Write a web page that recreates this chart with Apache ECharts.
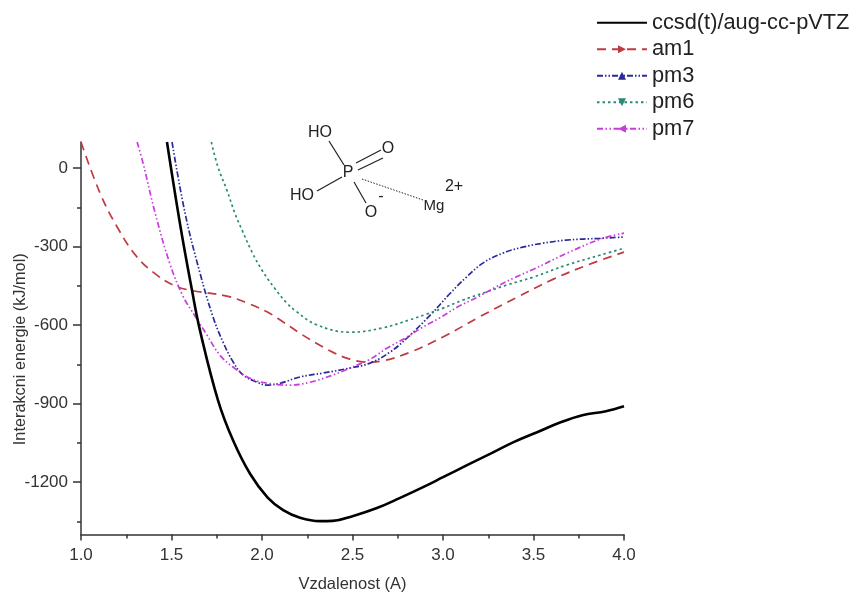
<!DOCTYPE html>
<html><head><meta charset="utf-8">
<style>html,body{margin:0;padding:0;background:#fff}#c{width:855px;height:594px}</style>
<script src="https://cdn.jsdelivr.net/npm/echarts@6/dist/echarts.min.js"></script>
</head><body><div id="c"></div>
<script>
const ccsd = [[1.475,100],[1.55,-225],[1.613,-466],[1.657,-619],[1.757,-887],[1.84,-1040],[1.934,-1168],[2.03,-1258],[2.117,-1307],[2.21,-1336],[2.32,-1349],[2.39,-1348],[2.50,-1330],[2.635,-1299],[2.76,-1261],[2.89,-1219],[3.0,-1181],[3.13,-1136],[3.26,-1092],[3.39,-1047],[3.52,-1009],[3.65,-971],[3.77,-944],[3.90,-929],[4.0,-910]];
const am1 = [[1.0,100],[1.105,-95],[1.2,-225],[1.31,-340],[1.42,-409],[1.51,-447],[1.6,-466],[1.806,-489],[1.917,-515],[2.03,-550],[2.117,-588],[2.21,-631],[2.30,-669],[2.39,-703],[2.486,-730],[2.58,-741],[2.67,-736],[2.82,-703],[3.0,-645],[3.2,-569],[3.41,-493],[3.61,-424],[3.81,-367],[4.0,-321]];
const pm3 = [[1.503,100],[1.575,-172],[1.657,-400],[1.73,-570],[1.785,-665],[1.84,-740],[1.895,-790],[1.97,-817],[2.03,-829],[2.10,-822],[2.21,-798],[2.337,-783],[2.486,-764],[2.597,-745],[2.707,-703],[2.80,-650],[2.94,-554],[3.04,-478],[3.13,-416],[3.22,-363],[3.33,-325],[3.44,-302],[3.55,-287],[3.68,-275],[3.87,-268],[4.0,-263]];
const pm6 = [[1.72,100],[1.757,4],[1.806,-84],[1.85,-172],[1.89,-237],[1.945,-321],[2.0,-390],[2.07,-459],[2.138,-516],[2.19,-548],[2.30,-598],[2.486,-627],[2.67,-610],[2.81,-581],[2.90,-560],[3.0,-535],[3.11,-504],[3.22,-478],[3.35,-447],[3.50,-416],[3.68,-371],[3.87,-332],[4.0,-306]];
const pm7 = [[1.31,100],[1.343,19],[1.41,-172],[1.49,-363],[1.564,-490],[1.63,-565],[1.696,-638],[1.768,-715],[1.84,-760],[1.934,-803],[2.03,-822],[2.155,-829],[2.265,-818],[2.39,-791],[2.486,-764],[2.597,-730],[2.69,-688],[2.80,-646],[2.88,-611],[2.98,-573],[3.08,-531],[3.19,-493],[3.29,-455],[3.39,-420],[3.50,-386],[3.685,-325],[3.87,-271],[4.0,-248]];
const yMajorTicks = [0,-300,-600,-900,-1200];
const yMinorTicks = [-150,-450,-750,-1050,-1350];
const seriesNames = ['ccsd(t)/aug-cc-pVTZ','am1','pm3','pm6','pm7'];

const font = 'Liberation Sans, Arial, sans-serif';
const ink = '#333';
const chart = echarts.init(document.getElementById('c'));
function line(name,data,color,width,dash,rotate,marker){
  return {name,type:'line',data,smooth:0.4,showSymbol:false,symbol:'triangle',symbolSize:5,symbolRotate:rotate,
    itemStyle:{color:marker},lineStyle:{color,width,type:dash},z:name===seriesNames[0]?3:2,clip:true,silent:true};
}
function t(text,x,y,size){return {type:'text',x,y,style:{text,fontFamily:font,fontSize:size||16,fill:'#222',align:'center',verticalAlign:'middle'}};}
function b(x1,y1,x2,y2,dash){return {type:'line',shape:{x1,y1,x2,y2},style:{stroke:'#222',lineWidth:dash?1:1.2,lineDash:dash||null}};}
chart.setOption({
  animation:false,
  backgroundColor:'#fff',
  grid:{left:81,right:231,top:142,bottom:59.5,outerBoundsMode:'none'},
  legend:{orient:'vertical',left:596,top:11,padding:0,itemWidth:50,itemHeight:10,itemGap:3,
    data:seriesNames,textStyle:{fontFamily:font,fontSize:21.8,color:'#222',lineHeight:23.5,padding:[0,0,0,0]},selectedMode:false},
  xAxis:{type:'value',min:1,max:4,interval:0.5,name:'Vzdalenost (A)',nameLocation:'middle',nameGap:41,
    nameTextStyle:{fontFamily:font,fontSize:16.5,color:ink},
    axisLine:{onZero:false,lineStyle:{color:ink,width:1.5}},
    axisTick:{show:true,length:6,lineStyle:{color:ink,width:1.5}},
    minorTick:{show:true,splitNumber:2,length:4,lineStyle:{color:ink,width:1.5}},
    splitLine:{show:false},
    axisLabel:{fontFamily:font,fontSize:17,color:ink,margin:12,formatter:v=>v.toFixed(1)}},
  yAxis:[{type:'value',min:-1400,max:100,name:'Interakcni energie (kJ/mol)',nameLocation:'middle',nameGap:52,nameMoveOverlap:false,
    nameTextStyle:{fontFamily:font,fontSize:16.3,color:ink,padding:[0,22,0,0]},
    axisLine:{onZero:false,show:true,lineStyle:{color:ink,width:1.5}},
    axisTick:{show:true,length:8,customValues:yMajorTicks,lineStyle:{color:ink,width:1.5}},
    splitLine:{show:false},
    axisLabel:{fontFamily:font,fontSize:17,color:ink,margin:13,customValues:yMajorTicks,formatter:v=>String(v)}},
   {type:'value',min:-1400,max:100,position:'left',
    axisLine:{onZero:false,show:false},
    axisTick:{show:true,length:4,customValues:yMinorTicks,lineStyle:{color:ink,width:1.5}},
    splitLine:{show:false},axisLabel:{show:false,customValues:yMinorTicks}}],
  series:[
    line(seriesNames[0],ccsd,'#000',2.6,'solid',0,'transparent'),
    line(seriesNames[1],am1,'#c03a42',1.7,[9,6],-90,'#c03a42'),
    line(seriesNames[2],pm3,'#2a2a9c',1.7,[6,2,1.5,2,1.5,2],0,'#2a2a9c'),
    line(seriesNames[3],pm6,'#2a8a78',1.7,[2.5,3],180,'#2a8a78'),
    line(seriesNames[4],pm7,'#c83ddc',1.7,[6,2.5,1.5,2.5,1.5,2.5],90,'#c83ddc')
  ],
  graphic:[
    t('HO',320,133),t('P',348,173),t('O',388,149),t('HO',302,196),t('O',371,213),t('-',381,197),t('Mg',434,206,15),t('2+',454,187),
    b(329,141,344,165),b(342,177,317,191),b(356,163,381,150),b(358,170,383,158),b(354,182,366,203),b(362,179,423,200,[1.5,1.5])
  ]
});
</script></body></html>
